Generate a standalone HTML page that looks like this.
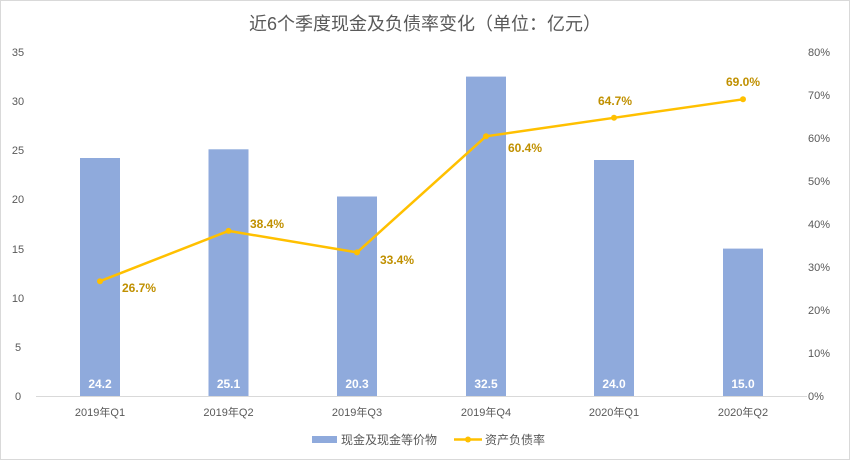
<!DOCTYPE html>
<html><head><meta charset="utf-8"><style>
html,body{margin:0;padding:0;background:#fff}
svg{display:block;font-family:"Liberation Sans","Noto Sans CJK SC",sans-serif}
</style></head><body>
<svg width="850" height="460" viewBox="0 0 850 460">
<rect x="0.5" y="0.5" width="849" height="459" fill="#fff" stroke="#d9d9d9"/>
<text x="425" y="30" text-anchor="middle" font-size="18" fill="#595959">近6个季度现金及负债率变化（单位：亿元）</text>
<g font-size="11" fill="#595959" text-anchor="middle">
<text x="18" y="400">0</text><text x="18" y="351">5</text><text x="18" y="302">10</text><text x="18" y="253">15</text><text x="18" y="203">20</text><text x="18" y="154">25</text><text x="18" y="105">30</text><text x="18" y="56">35</text>
</g>
<g font-size="11" fill="#595959" text-anchor="start">
<text x="808" y="400">0%</text><text x="808" y="357">10%</text><text x="808" y="314">20%</text><text x="808" y="271">30%</text><text x="808" y="228">40%</text><text x="808" y="185">50%</text><text x="808" y="142">60%</text><text x="808" y="99">70%</text><text x="808" y="56">80%</text>
</g>
<line x1="36" y1="396.5" x2="807" y2="396.5" stroke="#d9d9d9"/>
<g fill="#8faadc">
<rect x="80" y="158" width="40" height="238"/>
<rect x="208.5" y="149.3" width="40" height="246.7"/>
<rect x="337" y="196.5" width="40" height="199.5"/>
<rect x="466" y="76.6" width="40" height="319.4"/>
<rect x="594" y="160" width="40" height="236"/>
<rect x="723" y="248.6" width="40" height="147.4"/>
</g>
<g font-size="12" font-weight="bold" fill="#fff" text-anchor="middle">
<text x="100" y="388">24.2</text><text x="228.5" y="388">25.1</text><text x="357" y="388">20.3</text><text x="486" y="388">32.5</text><text x="614" y="388">24.0</text><text x="743" y="388">15.0</text>
</g>
<g font-size="11" fill="#595959" text-anchor="middle">
<text x="100" y="416">2019年Q1</text><text x="228.5" y="416">2019年Q2</text><text x="357" y="416">2019年Q3</text><text x="486" y="416">2019年Q4</text><text x="614" y="416">2020年Q1</text><text x="743" y="416">2020年Q2</text>
</g>
<polyline points="100,281.2 228.5,230.9 357,252.4 486,136.3 614,117.8 743,99.3" fill="none" stroke="#ffc000" stroke-width="2.5" stroke-linejoin="round"/>
<g fill="#ffc000">
<circle cx="100" cy="281.2" r="3"/><circle cx="228.5" cy="230.9" r="3"/><circle cx="357" cy="252.4" r="3"/><circle cx="486" cy="136.3" r="3"/><circle cx="614" cy="117.8" r="3"/><circle cx="743" cy="99.3" r="3"/>
</g>
<g font-size="12" font-weight="bold" fill="#c09000">
<text x="122" y="292">26.7%</text><text x="250" y="228">38.4%</text><text x="380" y="264">33.4%</text><text x="508" y="152">60.4%</text>
<text x="615" y="105" text-anchor="middle">64.7%</text><text x="743" y="86" text-anchor="middle">69.0%</text>
</g>
<rect x="312" y="436" width="25" height="7" fill="#8faadc"/>
<text x="341" y="444" font-size="12" fill="#595959">现金及现金等价物</text>
<line x1="454" y1="439.5" x2="482" y2="439.5" stroke="#ffc000" stroke-width="2.5"/>
<circle cx="468" cy="439.5" r="3" fill="#ffc000"/>
<text x="485" y="444" font-size="12" fill="#595959">资产负债率</text>
</svg>
</body></html>
